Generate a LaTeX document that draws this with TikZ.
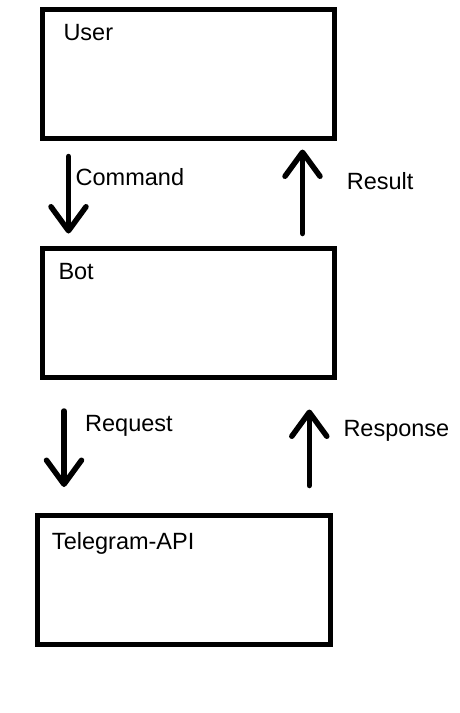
\documentclass[tikz,border=0pt]{standalone}
\usepackage{fontspec}
\setmainfont{Liberation Sans}
\usetikzlibrary{arrows.meta}
\tikzstyle{boxnode} = [draw, rectangle, line width=5pt, outer sep=0pt, minimum width=292pt, minimum height=129pt, anchor=north west]
\tikzstyle{txtnode} = [inner sep=0pt, anchor=base west]
\tikzstyle{flow} = [line width=5.5pt, line cap=round, -{Straight Barb[length=24pt, width=35pt, round]}]

\begin{document}
\begin{tikzpicture}[x=1pt, y=-1pt, font=\fontsize{23.5}{28}\selectfont]
  \useasboundingbox (0,0) rectangle (460,713);

  \node[boxnode] (user) at (42.5,9.5) {};
  \node[boxnode] (bot) at (42.5,248.5) {};
  \node[boxnode, minimum width=293pt] (tg) at (37.5,515) {};

  \node[txtnode] (user_t) at (63.3,40.7) {User};
  \node[txtnode] (bot_t) at (58.3,279.3) {Bot};
  \node[txtnode] (tg_t) at (51.8,549) {Telegram-API};

  % arrows between the boxes
  \draw[flow] ([xshift=26pt, yshift=-18pt]user.south west) -- ([xshift=26pt, yshift=15pt]bot.north west);
  \draw[flow] ([xshift=-32pt, yshift=15pt]bot.north east) -- ([xshift=-32pt, yshift=-11pt]user.south east);
  \draw[flow] ([xshift=21.5pt, yshift=-33.5pt]bot.south west) -- ([xshift=26.5pt, yshift=28pt]tg.north west);
  \draw[flow] ([xshift=-21.2pt, yshift=29.5pt]tg.north east) -- ([xshift=-25.2pt, yshift=-32pt]bot.south east);

  \node[txtnode] (cmd) at (75.5,185) {Command};
  \node[txtnode] (res) at (346.6,189.3) {Result};
  \node[txtnode] (req) at (85,431) {Request};
  \node[txtnode] (resp) at (343.3,436.7) {Response};
\end{tikzpicture}
\end{document}
